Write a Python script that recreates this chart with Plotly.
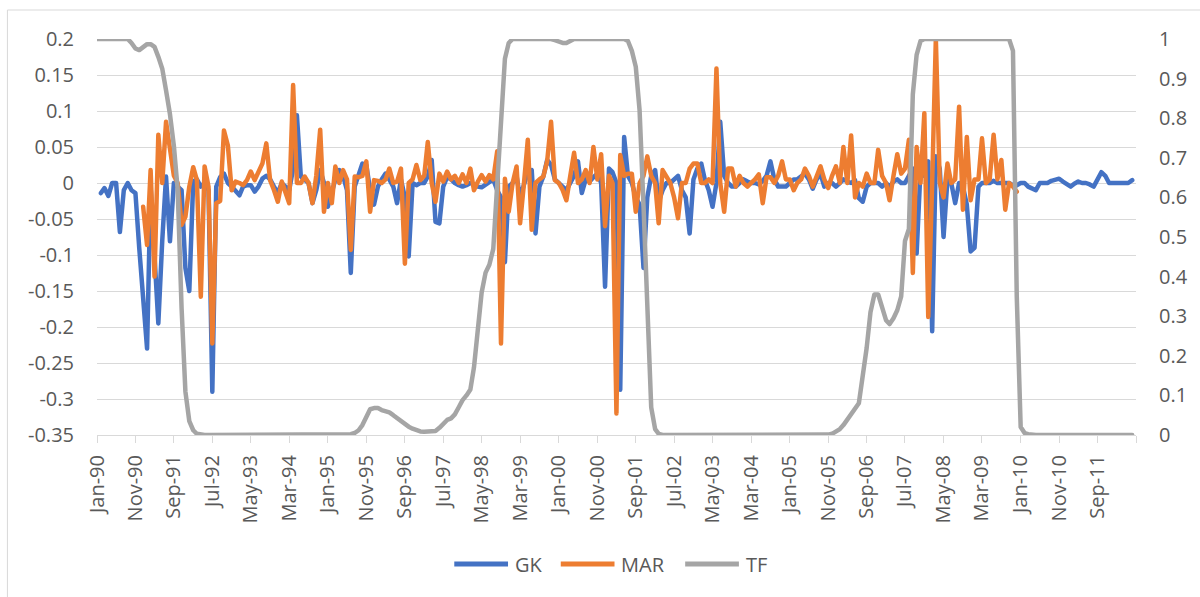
import pandas as pd
import plotly.graph_objects as go

# ---- monthly series -------------------------------------------------------
gk_start = "1990-02-01"
gk = [
    -0.014, -0.007, -0.018, 0.0, 0.0, -0.068, -0.01, 0.0, -0.01, -0.014, -0.09,
    -0.16, -0.23, -0.005, -0.1, -0.195, -0.08, 0.009, -0.081, 0.0, -0.005, -0.01, -0.118,
    -0.15, 0.002, 0.005, -0.005, 0.0, -0.01, -0.29, -0.005, 0.008, 0.013, 0.0, -0.005,
    -0.012, -0.017, -0.005, -0.003, -0.003, -0.012, -0.005, 0.006, 0.01, 0.005, -0.005, -0.014,
    0.0, -0.005, -0.01, 0.02, 0.094, 0.009, 0.005, 0.0, -0.028, -0.01, 0.018, 0.0,
    -0.033, -0.01, 0.005, 0.018, 0.01, -0.01, -0.125, -0.005, 0.01, 0.027, 0.025, -0.01,
    -0.03, -0.005, 0.005, 0.013, 0.005, -0.005, -0.028, 0.005, -0.02, -0.102, 0.0, -0.003,
    0.0, 0.0, 0.009, 0.032, -0.054, -0.056, -0.005, 0.008, 0.005, 0.0, -0.003, -0.005,
    -0.003, 0.0, -0.002, -0.005, -0.006, -0.002, 0.0, 0.005, -0.01, -0.02, -0.11, -0.005,
    0.0, 0.01, -0.02, 0.0, 0.015, 0.018, -0.07, -0.005, 0.009, 0.032, 0.025, 0.005,
    0.0, -0.005, -0.01, 0.0, 0.01, 0.03, -0.014, 0.005, 0.002, 0.008, 0.013, 0.0,
    -0.144, 0.02, 0.015, 0.0, -0.287, 0.064, 0.01, 0.0, -0.02, -0.03, -0.118, -0.02,
    0.01, 0.018, -0.026, -0.01, 0.0, 0.0, 0.005, 0.01, -0.01, -0.02, -0.07, 0.005,
    0.02, 0.027, 0.005, -0.01, -0.033, 0.0, 0.085, 0.01, 0.0, -0.005, -0.005, 0.0,
    0.005, 0.002, 0.0, 0.0, -0.002, 0.003, 0.01, 0.03, 0.005, -0.005, -0.005, -0.005,
    0.0, 0.005, 0.005, 0.01, 0.013, 0.005, -0.008, 0.005, 0.013, -0.005, 0.0, 0.0,
    -0.005, 0.0, 0.005, 0.002, 0.0, 0.004, -0.021, -0.026, -0.005, 0.0, 0.0, 0.0,
    -0.005, 0.0, -0.005, 0.002, 0.005, 0.0, 0.0, 0.01, 0.02, -0.098, 0.02, 0.01,
    0.03, -0.206, 0.037, 0.02, -0.075, 0.005, 0.0, -0.028, 0.0, -0.005, -0.03, -0.095,
    -0.09, -0.005, 0.0, 0.0, 0.0, 0.003, 0.0, 0.0, 0.0, 0.0, -0.003, -0.003,
    0.0, 0.0, -0.005, -0.008, -0.01, 0.0, 0.0, 0.0, 0.003, 0.005, 0.006, 0.002,
    -0.002, -0.005, -0.001, 0.002, 0.0, 0.0, -0.002, -0.005, 0.005, 0.015, 0.01, 0.0,
    0.0, 0.0, 0.0, 0.0, 0.0, 0.004,
]

mar_start = "1991-01-01"
mar = [
    -0.033, -0.086, 0.018, -0.13, 0.067, 0.0, 0.085, 0.046, 0.01, 0.0, -0.058, -0.047,
    -0.005, 0.022, 0.004, -0.158, 0.023, -0.005, -0.223, -0.028, -0.025, 0.073, 0.052, -0.01,
    0.002, 0.0, -0.003, 0.004, 0.016, 0.004, 0.015, 0.027, 0.055, 0.004, -0.01, -0.026,
    0.002, -0.012, -0.028, 0.136, 0.0, 0.0, 0.009, 0.0, -0.028, 0.01, 0.074, -0.04,
    0.0, -0.028, 0.023, 0.0, 0.018, 0.005, -0.093, 0.009, 0.008, 0.01, 0.03, -0.04,
    0.004, 0.003, 0.0, 0.005, 0.02, 0.0, 0.002, 0.02, -0.112, 0.0, 0.005, 0.025,
    0.004, 0.01, 0.057, 0.0, -0.026, 0.013, 0.002, 0.016, 0.005, 0.01, 0.0, 0.012,
    0.0, 0.02, -0.01, 0.002, 0.011, 0.002, 0.011, 0.005, 0.044, -0.223, 0.006, -0.04,
    0.0, 0.023, -0.056, 0.0, 0.06, -0.065, 0.0, 0.005, 0.009, 0.03, 0.085, 0.004,
    0.0, -0.01, -0.024, 0.01, 0.042, 0.0, 0.005, 0.018, 0.0, 0.05, 0.005, 0.04,
    -0.06, 0.01, 0.0, -0.32, 0.039, 0.01, 0.013, 0.013, -0.04, 0.0, 0.01, 0.037,
    0.01, 0.0, -0.056, 0.018, 0.01, 0.0, -0.02, -0.049, 0.0, 0.0, 0.02, 0.027,
    0.027, 0.0, 0.0, 0.005, 0.0, 0.159, 0.0, -0.04, 0.02, 0.02, -0.005, 0.01,
    0.0, -0.005, 0.0, 0.005, 0.012, -0.028, 0.008, 0.008, 0.0, 0.01, 0.03, 0.005,
    0.005, -0.01, 0.0, 0.005, 0.02, 0.01, -0.005, 0.01, 0.023, 0.005, -0.007, 0.01,
    0.023, 0.0, 0.05, 0.0, 0.066, -0.02, 0.0, -0.005, 0.013, 0.0, 0.0, 0.046,
    0.01, 0.0, -0.024, 0.01, 0.04, 0.013, 0.02, 0.06, -0.125, 0.05, 0.0, 0.097,
    -0.186, 0.0, 0.2, 0.0, -0.02, 0.027, 0.0, 0.005, 0.106, -0.037, 0.064, -0.024,
    0.005, 0.005, 0.062, 0.0, 0.005, 0.067, 0.005, 0.032, -0.037, 0.0, -0.005, -0.012,
]

tf_start = "1990-01-01"
tf = [
    1.0, 1.0, 1.0, 1.0, 1.0, 1.0, 1.0, 1.0, 1.0, 0.99, 0.976, 0.972,
    0.98, 0.987, 0.987, 0.98, 0.955, 0.925, 0.87, 0.81, 0.73, 0.62, 0.32, 0.11,
    0.035, 0.012, 0.003, 0.0, 0.0, 0.0, 0.0, 0.0, 0.0, 0.0, 0.0, 0.0,
    0.0, 0.0, 0.0, 0.0, 0.0, 0.0, 0.0, 0.0, 0.0, 0.0, 0.0, 0.0,
    0.0, 0.0, 0.0, 0.0, 0.0, 0.0, 0.0, 0.0, 0.0, 0.0, 0.0, 0.0,
    0.0, 0.0, 0.0, 0.0, 0.0, 0.0, 0.002, 0.005, 0.012, 0.025, 0.045, 0.065,
    0.068, 0.068, 0.063, 0.06, 0.057, 0.05, 0.042, 0.034, 0.028, 0.021, 0.016, 0.012,
    0.009, 0.008, 0.008, 0.008, 0.01, 0.018, 0.03, 0.038, 0.042, 0.052, 0.07, 0.088,
    0.1, 0.115, 0.17, 0.27, 0.36, 0.41, 0.43, 0.47, 0.63, 0.82, 0.95, 0.99,
    1.0, 1.0, 1.0, 1.0, 1.0, 1.0, 1.0, 1.0, 1.0, 1.0, 1.0, 0.997,
    0.992, 0.99, 0.99, 0.995, 1.0, 1.0, 1.0, 1.0, 1.0, 1.0, 1.0, 1.0,
    1.0, 1.0, 1.0, 1.0, 1.0, 1.0, 0.995, 0.97, 0.93, 0.82, 0.58, 0.30,
    0.07, 0.015, 0.003, 0.0, 0.0, 0.0, 0.0, 0.0, 0.0, 0.0, 0.0, 0.0,
    0.0, 0.0, 0.0, 0.0, 0.0, 0.0, 0.0, 0.0, 0.0, 0.0, 0.0, 0.0,
    0.0, 0.0, 0.0, 0.0, 0.0, 0.0, 0.0, 0.0, 0.0, 0.0, 0.0, 0.0,
    0.0, 0.0, 0.0, 0.0, 0.0, 0.0, 0.0, 0.0, 0.0, 0.0, 0.001, 0.003,
    0.008, 0.015, 0.025, 0.04, 0.055, 0.065, 0.08, 0.15, 0.22, 0.31, 0.355, 0.355,
    0.32, 0.29, 0.28, 0.295, 0.315, 0.35, 0.49, 0.52, 0.86, 0.96, 0.995, 1.0,
    1.0, 1.0, 1.0, 1.0, 1.0, 1.0, 1.0, 1.0, 1.0, 1.0, 1.0, 1.0,
    1.0, 1.0, 1.0, 1.0, 1.0, 1.0, 1.0, 1.0, 1.0, 1.0, 0.97, 0.35,
    0.02, 0.005, 0.002, 0.0, 0.0, 0.0, 0.0, 0.0, 0.0, 0.0, 0.0, 0.0,
    0.0, 0.0, 0.0, 0.0, 0.0, 0.0, 0.0, 0.0, 0.0, 0.0, 0.0, 0.0,
    0.0, 0.0, 0.0, 0.0, 0.0, 0.0,
]

left_ticks = [0.2, 0.15, 0.1, 0.05, 0.0, -0.05, -0.1, -0.15, -0.2, -0.25, -0.3, -0.35]
left_labels = ["0.2", "0.15", "0.1", "0.05", "0", "-0.05", "-0.1", "-0.15", "-0.2", "-0.25", "-0.3", "-0.35"]
right_ticks = [0.0, 0.1, 0.2, 0.3, 0.4, 0.5, 0.6, 0.7, 0.8, 0.9, 1.0]
right_labels = ["0", "0.1", "0.2", "0.3", "0.4", "0.5", "0.6", "0.7", "0.8", "0.9", "1"]

series_names = ["GK", "MAR", "TF"]
series_colors = ["#4472C4", "#ED7D31", "#A5A5A5"]

# ---- styling ----------------------------------------------------------------
FONT = "Open Sans"
TEXT = "#595959"
GRID = "#D9D9D9"
LW = 4.5

W, H = 1200, 597
ML, MR, MT, MB = 97, 59, 39, 162
PW, PH = W - ML - MR, H - MT - MB


def px_x(px):
    return (px - ML) / PW


def px_y(py):
    return (H - MB - py) / PH


def monthly(start, values):
    return pd.date_range(start, periods=len(values), freq="MS")


tick_dates = pd.date_range("1990-01-01", "2012-07-01", freq="10MS")
tick_text = [d.strftime("%b-%y") for d in tick_dates[:-1]] + [""]

fig = go.Figure()
fig.add_trace(go.Scatter(x=monthly(gk_start, gk), y=gk, name=series_names[0], mode="lines",
                         line=dict(color=series_colors[0], width=LW), showlegend=False))
fig.add_trace(go.Scatter(x=monthly(mar_start, mar), y=mar, name=series_names[1], mode="lines",
                         line=dict(color=series_colors[1], width=LW), showlegend=False))
fig.add_trace(go.Scatter(x=monthly(tf_start, tf), y=tf, name=series_names[2], mode="lines",
                         line=dict(color=series_colors[2], width=LW), yaxis="y2", showlegend=False))

axis_font = dict(family=FONT, size=20, color=TEXT)

fig.update_layout(
    width=W, height=H,
    margin=dict(l=ML, r=MR, t=MT, b=MB),
    paper_bgcolor="white", plot_bgcolor="white",
    font=axis_font,
    xaxis=dict(
        type="date", range=[tick_dates[0], tick_dates[-1]],
        tickmode="array", tickvals=list(tick_dates), ticktext=tick_text,
        tickangle=-90, ticks="outside", ticklen=7, tickcolor=GRID, tickwidth=1,
        showline=True, linecolor=GRID, linewidth=1, showgrid=False, zeroline=False,
        tickfont=axis_font, ticklabelstandoff=4,
    ),
    yaxis=dict(
        range=[-0.35, 0.2], tickmode="array", tickvals=left_ticks, ticktext=left_labels,
        showgrid=True, gridcolor=GRID, gridwidth=1, zeroline=False, showline=False,
        ticks="", tickfont=axis_font, ticklabelstandoff=22,
    ),
    yaxis2=dict(
        range=[0, 1], overlaying="y", side="right", tickmode="array",
        tickvals=right_ticks, ticktext=right_labels, showgrid=False, zeroline=False,
        showline=False, ticks="", tickfont=axis_font, ticklabelstandoff=22,
    ),
    showlegend=False,
)

# chart frame
fig.add_shape(type="rect", xref="paper", yref="paper",
              x0=px_x(7), y0=px_y(605), x1=px_x(1206), y1=px_y(10),
              line=dict(color=GRID, width=1), fillcolor="rgba(0,0,0,0)", layer="below")

# legend row
legend_items = [(456, 510, 515), (563, 617, 622), (688, 742, 747)]
legend_y = 564
for (x0, x1, xt), name, color in zip(legend_items, series_names, series_colors):
    fig.add_shape(type="line", xref="paper", yref="paper",
                  x0=px_x(x0), x1=px_x(x1), y0=px_y(legend_y), y1=px_y(legend_y),
                  line=dict(color=color, width=5))
    fig.add_annotation(xref="paper", yref="paper", x=px_x(xt), y=px_y(legend_y),
                       text=name, showarrow=False, xanchor="left", yanchor="middle",
                       font=axis_font)

post = """
document.body.style.margin = '0';
document.querySelectorAll('.scatterlayer path.js-line').forEach(function (p) {
  p.style.strokeLinejoin = 'round';
  p.style.strokeLinecap = 'round';
});
"""

fig.write_html("out.html", config={"displayModeBar": False}, post_script=post)
